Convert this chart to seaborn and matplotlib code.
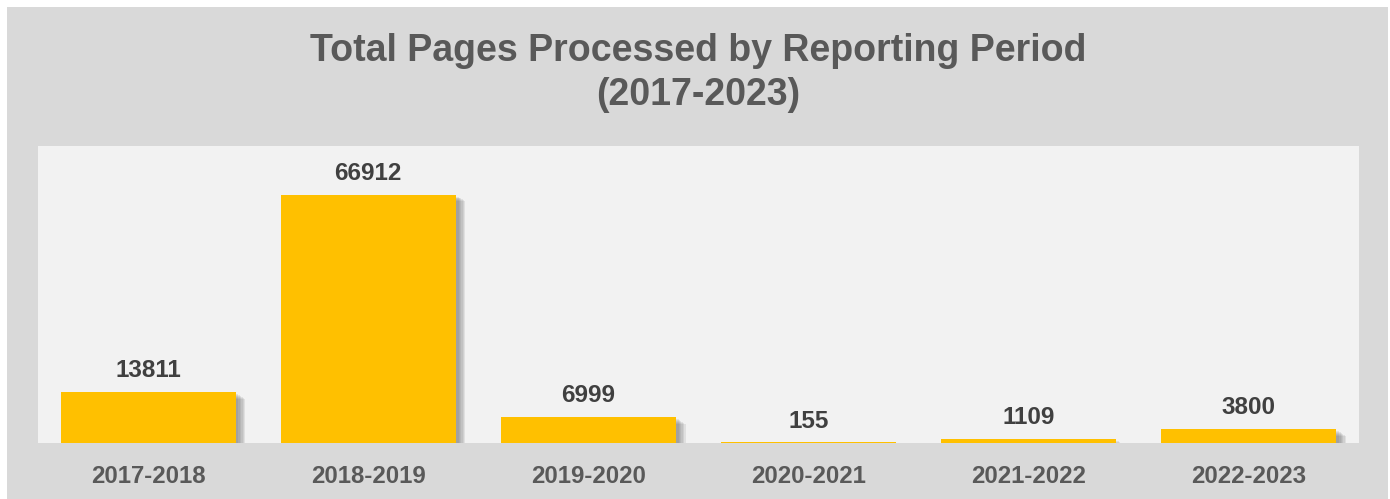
import matplotlib
matplotlib.use("Agg")
import matplotlib.pyplot as plt
import matplotlib.patheffects as pe
from matplotlib.patches import Rectangle
import seaborn as sns
import pandas as pd

periods = ["2017-2018", "2018-2019", "2019-2020", "2020-2021", "2021-2022", "2022-2023"]
pages = [13811, 66912, 6999, 155, 1109, 3800]

df = pd.DataFrame({"period": periods, "pages": pages})

sns.set_theme(style="white")
plt.rcParams['font.family'] = ['Liberation Sans', 'DejaVu Sans']

W, H = 1390, 499
fig = plt.figure(figsize=(W / 100, H / 100), dpi=100)
fig.patch.set_facecolor("white")
bg = Rectangle((7 / W, 0), (1388 - 7) / W, (H - 7) / H,
               transform=fig.transFigure, facecolor="#d9d9d9",
               edgecolor="none", zorder=-10)
fig.add_artist(bg)

ax = fig.add_axes([38 / W, (H - 443) / H, (1359 - 38) / W, (443 - 146) / H])
ax.set_zorder(5)
ax.set_facecolor("#f2f2f2")

sns.barplot(data=df, x="period", y="pages", color="#FFC000", saturation=1,
            width=0.795, linewidth=0, ax=ax)

shadow = [pe.SimplePatchShadow(offset=(o, -o * 0.7), shadow_rgbFace="#606060", alpha=0.12)
          for o in (7, 6, 5, 4, 3, 2)]
for p in ax.patches:
    p.set_path_effects(shadow + [pe.Normal()])

ax.set_xlim(-0.5, 5.5)
ax.set_ylim(0, 80000)
ax.set_xlabel("")
ax.set_ylabel("")
ax.set_yticks([])
for s in ax.spines.values():
    s.set_visible(False)

ax.bar_label(ax.containers[0], labels=[str(v) for v in pages], padding=7,
             fontsize=17.5, fontweight="bold", color="#404040")

ax.tick_params(axis="x", length=0, pad=16)
for t in ax.get_xticklabels():
    t.set_fontsize(17.3)
    t.set_fontweight("bold")
    t.set_color("#595959")

fig.text(698 / W, 1 - 73 / H, "Total Pages Processed by Reporting Period\n(2017-2023)",
         ha="center", va="center", fontsize=27, fontweight="bold", color="#595959",
         linespacing=1.3)

fig.savefig("out.png", dpi=100, facecolor=fig.get_facecolor())
